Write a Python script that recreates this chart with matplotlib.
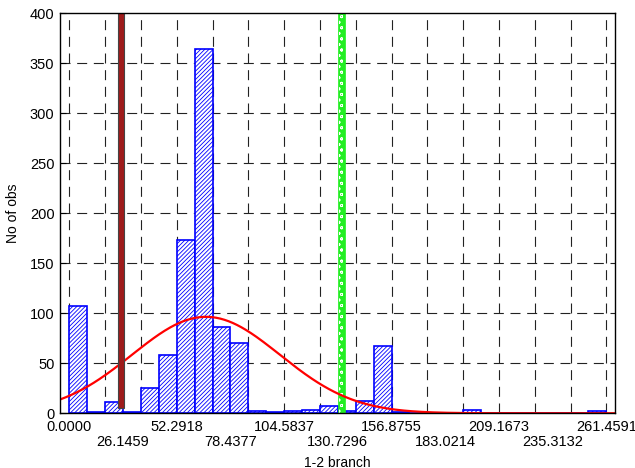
import numpy as np
import matplotlib.pyplot as plt

plt.rcParams['font.family'] = ['Liberation Sans', 'DejaVu Sans']
plt.rcParams['hatch.linewidth'] = 0.6

# histogram of 1-2 branch (30 bins from 0 to 261.4591)
x_max = 261.4591
n_bins = 30
counts = [107, 1, 11, 1, 25, 58, 173, 364, 86, 70,
          2, 1, 2, 3, 7, 2, 12, 67, 1, 0,
          0, 0, 3, 0, 0, 0, 0, 0, 0, 2]

# fitted normal curve
fit_mean = 66.5
fit_sd = 36.0

# marker lines
red_x, red_w, red_bottom = 25.1, 2.6, 5
green_x, green_w = 132.4, 3.2

tick_vals = [0.0, 26.1459, 52.2918, 78.4377, 104.5837, 130.7296,
             156.8755, 183.0214, 209.1673, 235.3132, 261.4591]

bw = x_max / n_bins
edges = np.arange(n_bins) * bw
fs = 10.5

fig = plt.figure(figsize=(6.35, 4.68), dpi=100)
ax = fig.add_axes([0.0945, 0.117, 0.8745, 0.855])

# grid (dashed) every 2 bins / every 50
grid_style = dict(color='#222222', lw=0.8, ls=(0, (9, 6)), zorder=0)
for gx in np.arange(0, n_bins + 1, 2) * bw:
    ax.axvline(gx, **grid_style)
for gy in range(50, 400, 50):
    ax.axhline(gy, **grid_style)

ax.bar(edges, counts, width=bw, align='edge', facecolor='white',
       edgecolor='#0000ff', hatch='////////', linewidth=1.2, zorder=2)

# green marker
ax.bar(green_x, 420, width=green_w, color='#22ee22', edgecolor='#22ee22',
       linewidth=0.5, zorder=3)
ax.bar(green_x, 420, width=green_w * 0.6, facecolor='none', edgecolor='white',
       hatch='ooo', linewidth=0, zorder=3)

# normal fit
xs = np.linspace(-bw / 2, x_max + bw / 2, 400)
ys = sum(counts) * bw * np.exp(-0.5 * ((xs - fit_mean) / fit_sd) ** 2) / (fit_sd * np.sqrt(2 * np.pi))
ax.plot(xs, ys, color='#ff0000', lw=1.6, zorder=4)

# dark red marker
ax.bar(red_x, 420, bottom=red_bottom, width=red_w, color='#9e1b1b',
       edgecolor='#444444', linewidth=0.8, zorder=5)

ax.set_xlim(-bw / 2 - 0.2, x_max + bw / 2)
ax.set_ylim(0, 400)

ax.set_xticks(tick_vals[::2], [f'{v:.4f}' for v in tick_vals[::2]])
ax.set_xticks(tick_vals[1::2], [f'{v:.4f}' for v in tick_vals[1::2]], minor=True)
ax.tick_params(axis='x', which='major', length=0, pad=5, labelsize=fs)
ax.tick_params(axis='x', which='minor', length=0, pad=15.5, labelsize=fs)
ax.set_yticks(range(0, 401, 50))
ax.tick_params(axis='y', direction='in', length=4, pad=4, labelsize=fs)

for s in ax.spines.values():
    s.set_linewidth(1.0)
    s.set_zorder(6)

ax.set_xlabel('1-2 branch', fontsize=fs - 0.5, labelpad=5)
ax.set_ylabel('No of obs', fontsize=fs - 0.5, labelpad=7)

plt.savefig('out.png', dpi=100)
